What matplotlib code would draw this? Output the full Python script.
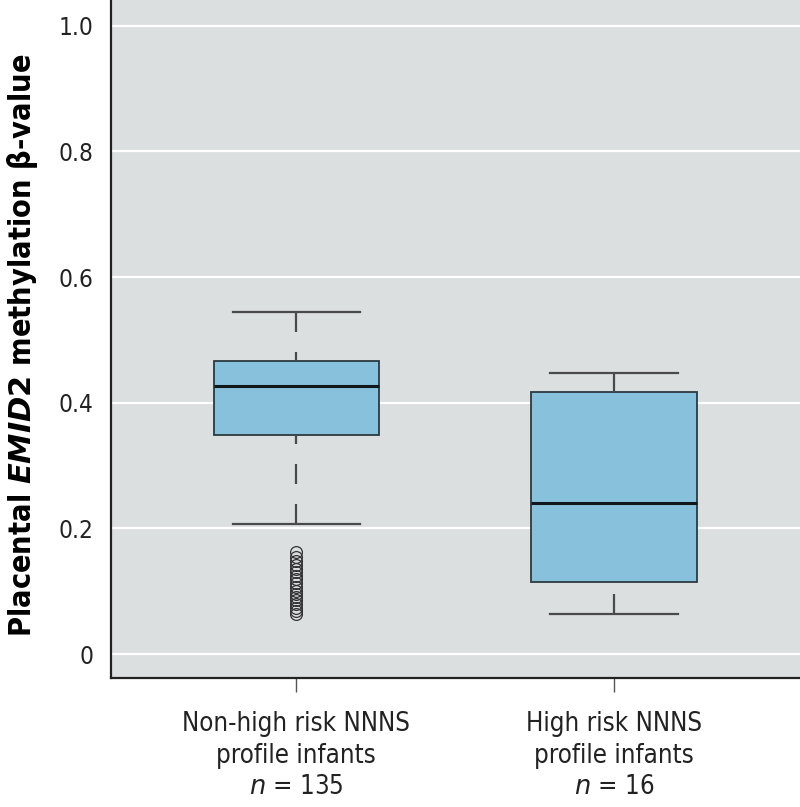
import numpy as np
import matplotlib
matplotlib.use("Agg")
import matplotlib.pyplot as plt

# values
group_line1 = ["Non-high risk NNNS", "High risk NNNS"]
group_line2 = ["profile infants", "profile infants"]
n_labels = ["$n$ = 135", "$n$ = 16"]
whislo = [0.207, 0.064]
q1 = [0.348, 0.114]
med = [0.427, 0.241]
q3 = [0.467, 0.417]
whishi = [0.545, 0.447]
fliers_0 = [0.063, 0.068, 0.074, 0.080, 0.086, 0.091, 0.096, 0.101, 0.107,
            0.113, 0.119, 0.124, 0.130, 0.136, 0.142, 0.148, 0.155, 0.163]
fliers_1 = []
yticks = [0, 0.2, 0.4, 0.6, 0.8, 1.0]
ytick_labels = ["0", "0.2", "0.4", "0.6", "0.8", "1.0"]

stats = []
for i in range(2):
    stats.append(dict(whislo=whislo[i], q1=q1[i], med=med[i], q3=q3[i],
                      whishi=whishi[i], fliers=[fliers_0, fliers_1][i]))

fig = plt.figure(figsize=(8.0, 8.07), dpi=100)
ax = fig.add_axes([0.139, 0.16, 0.861, 0.84])
ax.set_facecolor("#dcdfe0")

for y in yticks:
    ax.axhline(y, color="white", lw=1.6, zorder=0)

parts = ax.bxp(stats, positions=[1, 2], widths=0.52, patch_artist=True,
               boxprops=dict(facecolor="#88c1dc", edgecolor="#2b3a40", lw=1.3),
               medianprops=dict(color="#10181c", lw=2.2),
               whiskerprops=dict(color="#4a4a4a", lw=1.6, linestyle=(0, (9, 9))),
               capprops=dict(color="#4a4a4a", lw=1.6),
               capwidths=0.4,
               flierprops=dict(marker="o", markerfacecolor="none",
                               markeredgecolor="#333333", markersize=8.5,
                               markeredgewidth=0.9))
# dash pattern starts at the cap, like R
for w in parts["whiskers"]:
    w.set_ydata(w.get_ydata()[::-1])

ax.set_xlim(0.418, 2.585)
ax.set_ylim(-0.038, 1.041)
ax.set_yticks(yticks)
ax.set_yticklabels(ytick_labels, fontsize=17.5, family="DejaVu Sans",
                   stretch="condensed", color="#222222")
ax.tick_params(axis="y", length=0, pad=13)
ax.set_xticks([1, 2])
ax.set_xticklabels(["", ""])
ax.tick_params(axis="x", length=10, width=1, color="#555555")

tr = ax.get_xaxis_transform()
for pos, l1, l2, n in zip([1, 2], group_line1, group_line2, n_labels):
    for yy, s in zip([-0.078, -0.125, -0.171], [l1, l2, n]):
        ax.text(pos, yy, s, ha="center", va="baseline", fontsize=18.5,
                family="DejaVu Sans", stretch="condensed", color="#222222",
                transform=tr)

ax.set_ylabel(r"Placental $\boldsymbol{EMID2}$ methylation β-value", fontsize=22,
              family="DejaVu Sans", stretch="condensed", fontweight="bold")
ax.yaxis.set_label_coords(-0.104, 0.49)

for s in ["top", "right"]:
    ax.spines[s].set_visible(False)
for s in ["left", "bottom"]:
    ax.spines[s].set_color("#222222")
    ax.spines[s].set_linewidth(1.6)

fig.savefig("out.png", dpi=100)
